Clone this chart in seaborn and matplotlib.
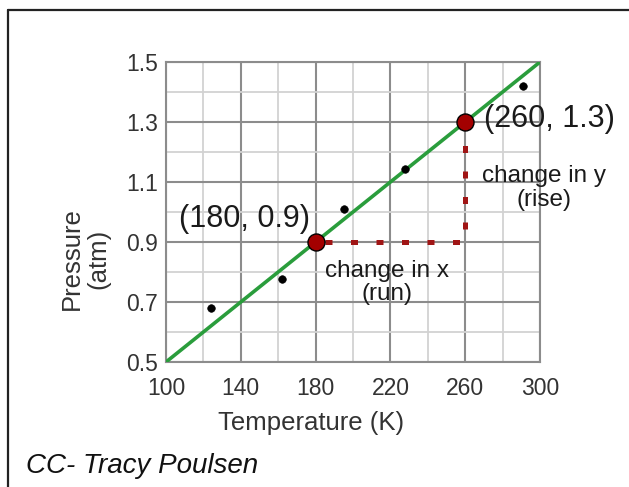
import numpy as np
import pandas as pd
import matplotlib
matplotlib.use("Agg")
import matplotlib.pyplot as plt
from matplotlib.lines import Line2D
from matplotlib.ticker import MultipleLocator
import seaborn as sns

# data
temperature = [124, 162, 195, 228, 291]
pressure = [0.68, 0.777, 1.01, 1.144, 1.42]
fit_temp = [100, 300]
fit_pressure = [0.5, 1.5]
pick_temp = [180, 260]
pick_pressure = [0.9, 1.3]
x_ticks = [100, 140, 180, 220, 260, 300]
y_ticks = [0.5, 0.7, 0.9, 1.1, 1.3, 1.5]

sns.set_style("white")
plt.rcParams['font.family'] = ['Liberation Sans', 'DejaVu Sans']

W, H = 629, 487
fig = plt.figure(figsize=(W / 100, H / 100), dpi=100)
ax = fig.add_axes([166 / W, 1 - 362 / H, 374 / W, 300 / H])

pts = pd.DataFrame({"T": temperature, "P": pressure})
fit = pd.DataFrame({"T": fit_temp, "P": fit_pressure})
pick = pd.DataFrame({"T": pick_temp, "P": pick_pressure})

sns.lineplot(data=fit, x="T", y="P", ax=ax, color="#2a9d3c", lw=2.6, zorder=3)
sns.scatterplot(data=pts, x="T", y="P", ax=ax, color="black", s=30,
                edgecolor="black", zorder=4)

# rise / run legs
ax.plot([pick_temp[0], pick_temp[1], pick_temp[1]],
        [pick_pressure[0], pick_pressure[0], pick_pressure[1]],
        color="#a01515", lw=3.6, ls=(3.3, (1.4, 3.7)), solid_capstyle="butt",
        zorder=4)
sns.scatterplot(data=pick, x="T", y="P", ax=ax, color="#a30000", s=150,
                edgecolor="black", linewidth=1, zorder=5, clip_on=False)

ax.set_xlim(100, 300)
ax.set_ylim(0.5, 1.5)
ax.set_xticks(x_ticks)
ax.set_yticks(y_ticks)
ax.set_yticklabels([f"{v:.1f}" for v in y_ticks])
ax.xaxis.set_minor_locator(MultipleLocator(20))
ax.yaxis.set_minor_locator(MultipleLocator(0.1))
ax.grid(which="minor", color="#d2d2d2", lw=1.3, zorder=0)
ax.grid(which="major", color="#8c8c8c", lw=1.5, zorder=1)
ax.set_axisbelow(True)
for sp in ax.spines.values():
    sp.set_color("#8c8c8c")
    sp.set_linewidth(1.5)
ax.tick_params(which="minor", length=0)
ax.tick_params(axis="y", which="major", length=4.5, width=1.5, color="#8c8c8c",
               pad=1, labelsize=16.5, labelcolor="#333333")
ax.tick_params(axis="x", which="major", length=5, width=1.5, color="#8c8c8c",
               pad=6, labelsize=16.5, labelcolor="#333333")
ax.set_xlabel("")
ax.set_ylabel("")

fig.text(311 / W, 1 - 423 / H, "Temperature (K)", fontsize=18.5,
         color="#333333", ha="center", va="center")
fig.text(85 / W, 1 - 259 / H, "Pressure\n(atm)", fontsize=18.5,
         color="#333333", ha="center", va="center", rotation=90,
         multialignment="center", linespacing=1.12)

ax.text(142, 0.975, "(180, 0.9)", fontsize=22, color="#1a1a1a",
        ha="center", va="center")
ax.text(305, 1.31, "(260, 1.3)", fontsize=22, color="#1a1a1a",
        ha="center", va="center", clip_on=False)
ax.text(302, 1.08, "change in y\n(rise)", fontsize=17.5, color="#1a1a1a",
        ha="center", va="center", linespacing=1.1, clip_on=False)
ax.text(218, 0.765, "change in x\n(run)", fontsize=17.5, color="#1a1a1a",
        ha="center", va="center", linespacing=1.1)

fig.text(26 / W, 1 - 473 / H, "CC- Tracy Poulsen", fontsize=20,
         style="italic", color="#111111", ha="left", va="baseline")

# border of the original frame (top and left only)
fig.add_artist(Line2D([7.5 / W, 1], [1 - 10 / H, 1 - 10 / H],
                      transform=fig.transFigure, color="#222222", lw=1.6))
fig.add_artist(Line2D([7.5 / W, 7.5 / W], [0, 1 - 10 / H],
                      transform=fig.transFigure, color="#222222", lw=1.6))

fig.savefig("out.png", dpi=100)
